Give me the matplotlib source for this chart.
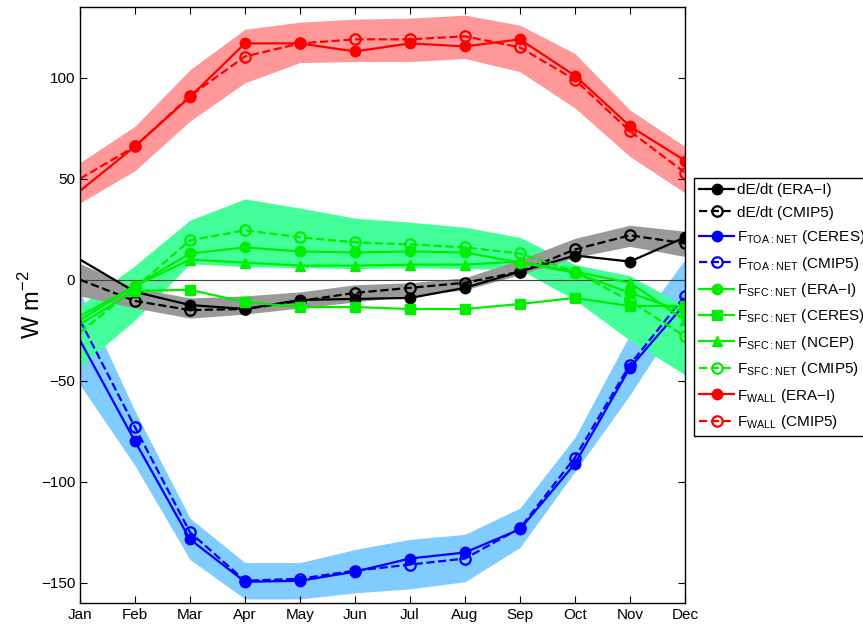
import numpy as np
import matplotlib
matplotlib.use("Agg")
import matplotlib.pyplot as plt

plt.rcParams['font.family'] = ['Liberation Sans', 'DejaVu Sans']
plt.rcParams['mathtext.fontset'] = 'custom'
plt.rcParams['mathtext.rm'] = 'Liberation Sans'

months = ['Jan', 'Feb', 'Mar', 'Apr', 'May', 'Jun', 'Jul', 'Aug', 'Sep', 'Oct', 'Nov', 'Dec']

# dE/dt
dedt_era = [10, -6, -12.5, -14.5, -10, -9.5, -9, -4, 4, 12, 9, 21]
dedt_cmip = [0, -10.5, -15, -14.5, -10.5, -6.5, -4, -1.5, 4, 15, 22, 18]
dedt_lo = [-8, -14, -19, -17, -14, -11, -8, -5, 2.5, 11, 16.5, 11.5]
dedt_hi = [8, -4, -9, -8, -6, -2.5, -1.5, 1, 10, 20.5, 27, 24]

# TOA net
toa_ceres = [-30, -80, -128.5, -149.5, -149, -144.5, -138, -135, -123.5, -91, -43.5, -12]
toa_cmip = [-20, -73, -125, -149, -148, -144, -141, -138, -123, -88, -42, -8]
toa_lo = [-52, -92, -138.5, -158, -158, -155, -153, -149.5, -132.5, -95, -57, -15]
toa_hi = [-6, -65, -118, -140, -140, -133.5, -128.5, -126, -113, -78, -27, 10]

# SFC net
sfc_era = [-20, -3, 13, 16, 14, 13.5, 14, 13.5, 8.5, 3.5, -6.5, -16]
sfc_ceres = [-22, -5.5, -5, -11, -13.5, -13.5, -14.5, -14.5, -12, -9, -13, -13]
sfc_ncep = [-18, -3, 10, 8.5, 7, 7, 7.5, 7.5, 9, 4, -1.5, -20]
sfc_cmip = [-26, -4, 19.5, 24.5, 21, 18.5, 17.5, 16, 13, 4, -10.5, -28]
sfc_lo = [-43, -20, 8, 6.5, 6, 5.5, 6, 5.5, 5, -10, -30, -47]
sfc_hi = [-13, 7, 29.5, 40, 35.5, 30.5, 28.5, 26, 21, 7.5, 2, -13]

# wall
wall_era = [44, 66, 90.5, 117, 117, 113, 117, 115.5, 119, 101, 76, 59]
wall_cmip = [50, 66, 91, 110.5, 117, 119, 119, 120.5, 115, 99, 73.5, 53]
wall_lo = [38, 54, 78.5, 97.5, 107.5, 108, 108, 109.5, 103, 85, 61, 43]
wall_hi = [58, 76, 104, 124, 127.5, 129, 129.5, 131, 126, 112, 84, 66]

x = np.arange(1, 13)
mk = list(range(1, 12))

fig = plt.figure(figsize=(8.63, 6.27), dpi=100)
ax = fig.add_axes([0.0927, 0.0383, 0.701, 0.9505])

ax.fill_between(x, toa_lo, toa_hi, color='#80ccff', lw=0)
ax.fill_between(x, sfc_lo, sfc_hi, color='#44ff99', lw=0)
ax.fill_between(x, dedt_lo, dedt_hi, color='#999999', lw=0)
ax.fill_between(x, wall_lo, wall_hi, color='#ff9999', lw=0)
ax.axhline(0, color='#444444', lw=0.8)

red, grn, blu = '#ff0000', '#00ee00', '#0000ff'
kw = dict(lw=1.6, ms=7.5, markevery=mk)
ax.plot(x, dedt_era, '-', color='k', marker='o', label='dE/dt (ERA\u2212I)', **kw)
ax.plot(x, dedt_cmip, '--', color='k', marker='o', mfc='none', mew=1.6, label='dE/dt (CMIP5)', **kw)
ax.plot(x, toa_ceres, '-', color=blu, marker='o', label=r'F$_{\mathrm{TOA{:}NET}}$ (CERES)', **kw)
ax.plot(x, toa_cmip, '--', color=blu, marker='o', mfc='none', mew=1.6, label=r'F$_{\mathrm{TOA{:}NET}}$ (CMIP5)', **kw)
ax.plot(x, sfc_era, '-', color=grn, marker='o', label=r'F$_{\mathrm{SFC{:}NET}}$ (ERA' + '\u2212I)', **kw)
ax.plot(x, sfc_ceres, '-', color=grn, marker='s', label=r'F$_{\mathrm{SFC{:}NET}}$ (CERES)', **kw)
ax.plot(x, sfc_ncep, '-', color=grn, marker='^', label=r'F$_{\mathrm{SFC{:}NET}}$ (NCEP)', **kw)
ax.plot(x, sfc_cmip, '--', color=grn, marker='o', mfc='none', mew=1.6, label=r'F$_{\mathrm{SFC{:}NET}}$ (CMIP5)', **kw)
ax.plot(x, wall_era, '-', color=red, marker='o', label=r'F$_{\mathrm{WALL}}$ (ERA' + '\u2212I)', **kw)
ax.plot(x, wall_cmip, '--', color=red, marker='o', mfc='none', mew=1.6, label=r'F$_{\mathrm{WALL}}$ (CMIP5)', **kw)

ax.set_xlim(1, 12)
ax.set_ylim(-160, 135)
ax.set_xticks(x)
ax.set_xticklabels(months)
ax.set_yticks([-150, -100, -50, 0, 50, 100])
ax.set_yticklabels(['\u2212150', '\u2212100', '\u221250', '0', '50', '100'])
ax.tick_params(direction='in', top=True, right=True, labelsize=11, length=5, width=0.8)
for s in ax.spines.values():
    s.set_linewidth(1.0)
ax.set_ylabel(r'W m$^{-2}$', fontsize=17, labelpad=-3)

leg = ax.legend(loc='upper left', bbox_to_anchor=(0.804, 0.716), bbox_transform=fig.transFigure,
                fontsize=11, frameon=True, fancybox=False, edgecolor='k', framealpha=1,
                handlelength=2.3, handletextpad=0.2, labelspacing=0.55, borderpad=0.35,
                borderaxespad=0)
leg.get_frame().set_linewidth(1.0)

fig.savefig('out.png', dpi=100)
